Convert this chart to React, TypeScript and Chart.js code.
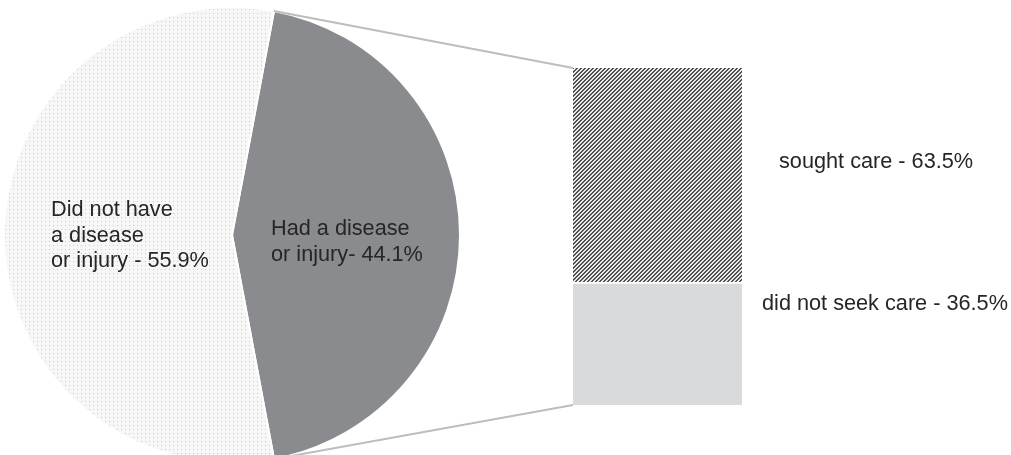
import { useEffect, useRef } from "react";
import { Chart, registerables } from "chart.js";

Chart.register(...registerables);

// Share of people who had a disease or injury
const pieCategories = ["Had a disease or injury", "Did not have a disease or injury"];
const pieValues = [44.1, 55.9];

// Of those who had a disease or injury: care seeking (bottom segment first)
const careCategories = ["did not seek care", "sought care"];
const careValues = [36.5, 63.5];

const FONT = '21.7px "Liberation Sans", Arial, sans-serif';
const TEXT_COLOR = "#262626";
const DARK_SLICE = "#8a8b8f";
const LIGHT_BAR = "#d9dadc";
const CONNECTOR = "#bdbdbd";

function dotPattern(): CanvasPattern | string {
  const c = document.createElement("canvas");
  c.width = 4;
  c.height = 4;
  const g = c.getContext("2d");
  if (!g) return "#f3f3f3";
  g.fillStyle = "#f7f7f7";
  g.fillRect(0, 0, 4, 4);
  g.fillStyle = "#cacaca";
  g.fillRect(1, 1, 1, 1);
  return g.createPattern(c, "repeat") || "#f3f3f3";
}

function hatchPattern(): CanvasPattern | string {
  const c = document.createElement("canvas");
  c.width = 4;
  c.height = 4;
  const g = c.getContext("2d");
  if (!g) return "#888";
  const img = g.createImageData(4, 4);
  for (let y = 0; y < 4; y++) {
    for (let x = 0; x < 4; x++) {
      const k = (x + y) % 4;
      const v = k === 0 ? 65 : k === 1 ? 100 : k === 2 ? 245 : 220;
      const i = (y * 4 + x) * 4;
      img.data[i] = v;
      img.data[i + 1] = v;
      img.data[i + 2] = v;
      img.data[i + 3] = 255;
    }
  }
  g.putImageData(img, 0, 0);
  return g.createPattern(c, "repeat") || "#888";
}

const pct = (v: number) => `${v.toFixed(1)}%`;

export default function App() {
  const barRef = useRef<HTMLCanvasElement>(null);
  const pieRef = useRef<HTMLCanvasElement>(null);

  useEffect(() => {
    document.body.style.margin = "0";
    if (!barRef.current || !pieRef.current) return;

    const careLines = [
      `did not seek care - ${pct(careValues[0])}`,
      `sought care - ${pct(careValues[1])}`,
    ];

    const barLabels = {
      id: "barLabels",
      afterDatasetsDraw(chart: any) {
        const ctx = chart.ctx;
        const low = chart.getDatasetMeta(0).data[0] as any;
        const high = chart.getDatasetMeta(1).data[0] as any;
        const right = low.x + low.width / 2;
        ctx.save();
        ctx.font = FONT;
        ctx.fillStyle = TEXT_COLOR;
        ctx.textAlign = "left";
        ctx.textBaseline = "alphabetic";
        ctx.fillText(careLines[1], right + 37, high.y + 100);
        ctx.fillText(careLines[0], right + 20, low.y + 28);
        ctx.restore();
      },
    };

    const bar = new Chart(barRef.current, {
      type: "bar",
      data: {
        labels: [""],
        datasets: careValues.map((v, i) => ({
          label: careCategories[i],
          data: [v],
          backgroundColor: i === 0 ? LIGHT_BAR : hatchPattern(),
          borderColor: "#ffffff",
          borderWidth: i === 0 ? { top: 2, right: 0, bottom: 0, left: 0 } : 0,
          borderSkipped: false,
          barPercentage: 1,
          categoryPercentage: 1,
        })),
      } as any,
      options: {
        responsive: false,
        animation: false,
        devicePixelRatio: 1,
        events: [],
        layout: { padding: { left: 573, right: 269, top: 68, bottom: 50 } },
        scales: {
          x: { display: false, stacked: true },
          y: { display: false, stacked: true, min: 0, max: 100 },
        },
        plugins: { legend: { display: false }, tooltip: { enabled: false } },
      },
      plugins: [barLabels],
    });

    const pieLines = [
      ["Had a disease", `or injury- ${pct(pieValues[0])}`],
      ["Did not have", "a disease", `or injury - ${pct(pieValues[1])}`],
    ];

    const pieExtras = {
      id: "pieExtras",
      afterDatasetsDraw(chart: any) {
        const ctx = chart.ctx;
        const arc = chart.getDatasetMeta(0).data[0] as any;
        const cx = arc.x;
        const cy = arc.y;
        const r = arc.outerRadius;

        // connectors from the "had" slice to the breakdown bar
        const low = bar.getDatasetMeta(0).data[0] as any;
        const high = bar.getDatasetMeta(1).data[0] as any;
        const left = high.x - high.width / 2;
        ctx.save();
        ctx.strokeStyle = CONNECTOR;
        ctx.lineWidth = 2;
        ctx.beginPath();
        ctx.moveTo(cx + r * Math.cos(arc.startAngle), cy + r * Math.sin(arc.startAngle));
        ctx.lineTo(left, high.y);
        ctx.moveTo(cx + r * Math.cos(arc.endAngle), cy + r * Math.sin(arc.endAngle));
        ctx.lineTo(left, low.base);
        ctx.stroke();

        ctx.font = FONT;
        ctx.fillStyle = TEXT_COLOR;
        ctx.textAlign = "left";
        ctx.textBaseline = "alphabetic";
        pieLines[0].forEach((t, i) => ctx.fillText(t, cx + 39, cy + i * 26));
        pieLines[1].forEach((t, i) => ctx.fillText(t, cx - 181, cy - 19 + i * 25.7));
        ctx.restore();
      },
    };

    const pie = new Chart(pieRef.current, {
      type: "pie",
      data: {
        labels: pieCategories,
        datasets: [
          {
            data: pieValues,
            backgroundColor: [DARK_SLICE, dotPattern()],
            borderColor: "#ffffff",
            borderWidth: 2,
            radius: 228,
            clip: false,
          },
        ],
      } as any,
      options: {
        responsive: false,
        animation: false,
        devicePixelRatio: 1,
        events: [],
        // "had" slice centred on the right-hand side
        rotation: 90 - (pieValues[0] / 100) * 180,
        radius: 228,
        layout: { padding: { left: 0, right: 547, top: 15, bottom: 0 } },
        plugins: { legend: { display: false }, tooltip: { enabled: false } },
      } as any,
      plugins: [pieExtras],
    });

    return () => {
      pie.destroy();
      bar.destroy();
    };
  }, []);

  return (
    <div style={{ position: "relative", width: 1011, height: 455, overflow: "hidden", background: "#fff" }}>
      <canvas ref={barRef} width={1011} height={455} style={{ position: "absolute", left: 0, top: 0 }} />
      <canvas ref={pieRef} width={1011} height={455} style={{ position: "absolute", left: 0, top: 0 }} />
    </div>
  );
}
